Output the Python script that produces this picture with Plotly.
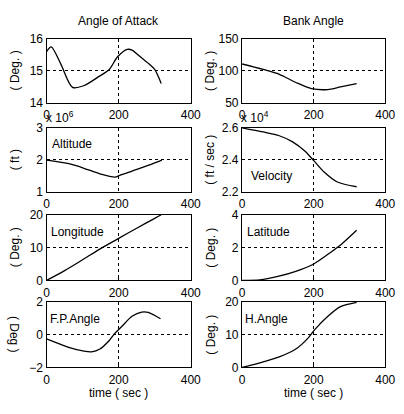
import plotly.graph_objects as go
from plotly.subplots import make_subplots

# ---- data ----
t_aoa = [0, 13, 40, 72, 103, 148, 174, 197, 224, 237, 264, 286, 300, 318]
aoa = [15.6, 15.75, 15.2, 14.48, 14.53, 14.84, 15.04, 15.44, 15.67, 15.65, 15.4, 15.2, 15.04, 14.6]

t_bank = [0, 59, 104, 149, 194, 239, 275, 320]
bank = [110.6, 102, 94.4, 82, 72, 70.5, 74.7, 80]

t_alt = [0, 59, 104, 149, 190, 203, 239, 284, 320]
alt = [1.985, 1.88, 1.73, 1.55, 1.45, 1.51, 1.65, 1.83, 1.985]  # x 10^6 ft

t_vel = [0, 59, 104, 140, 176, 201, 230, 266, 320]
vel = [2.6, 2.574, 2.55, 2.513, 2.453, 2.392, 2.321, 2.26, 2.23]  # x 10^4 ft/sec

t_lon = [0, 50, 100, 150, 200, 250, 300, 318]
lon = [0, 3.0, 6.3, 9.7, 12.8, 15.9, 18.9, 20]

t_lat = [0, 50, 100, 150, 200, 250, 280, 320]
lat = [0, 0.03, 0.24, 0.55, 1.0, 1.75, 2.25, 3.05]

t_fpa = [0, 59, 104, 125, 148, 174, 188, 210, 237, 264, 282, 316]
fpa = [-0.27, -0.76, -1.01, -1.05, -0.88, -0.36, 0.03, 0.52, 1.11, 1.37, 1.35, 0.96]

t_ha = [0, 59, 104, 149, 185, 203, 239, 275, 320]
ha = [0, 1.7, 3.2, 5.5, 9, 11.5, 15.5, 18.5, 19.8]

x_ticks = [0, 200, 400]
panels = [
    # (row, col, t, y, yrange, yticks, ytitle, label, label offsets)
    (1, 1, t_aoa, aoa, [14, 16], [14, 15, 16], "( Deg. )", None, None),
    (1, 2, t_bank, bank, [50, 150], [50, 100, 150], "( Deg. )", None, None),
    (2, 1, t_alt, alt, [1, 3], [1, 2, 3], "( ft )", "Altitude", (4, 17)),
    (2, 2, t_vel, vel, [2.2, 2.6], [2.2, 2.4, 2.6], "( ft / sec )", "Velocity", (7, 50)),
    (3, 1, t_lon, lon, [0, 20], [0, 10, 20], "( Deg. )", "Longitude", (3, 18)),
    (3, 2, t_lat, lat, [0, 4], [0, 2, 4], "( Deg. )", "Latitude", (3, 18)),
    (4, 1, t_fpa, fpa, [-2, 2], [-2, 0, 2], "( Deg )", "F.P.Angle", (1, 18)),
    (4, 2, t_ha, ha, [0, 20], [0, 10, 20], "( Deg. )", "H.Angle", (1, 18)),
]

W, H = 404, 414
xdom = {1: (45, 194), 2: (247, 395)}
ydom = {1: (33, 99), 2: (125, 191), 3: (215, 283), 4: (305, 373)}

FONT = "Liberation Sans, Arial, sans-serif"
TXT = dict(family=FONT, size=12, color="black")
fig = make_subplots(rows=4, cols=2)


def note(px, py, text, xanchor="center", angle=0):
    fig.add_annotation(x=px / W, y=1 - py / H, xref="paper", yref="paper", text=text,
                       showarrow=False, xanchor=xanchor, yanchor="middle", textangle=angle,
                       font=TXT)


for (r, c, t, y, yr, yt, ytitle, lab, off) in panels:
    fig.add_trace(go.Scatter(x=t, y=y, mode="lines",
                             line=dict(color="black", width=1.3, shape="spline", smoothing=0.8),
                             showlegend=False, hoverinfo="skip"), row=r, col=c)
    x0, x1 = xdom[c]
    y0, y1 = ydom[r]
    common = dict(showgrid=True, gridcolor="black", griddash="3px,3px", gridwidth=1,
                  showline=True, linecolor="black", linewidth=1.3, mirror=True,
                  ticks="inside", ticklen=3, tickcolor="black", zeroline=False,
                  tickfont=TXT)
    fig.update_xaxes(domain=[x0 / W, x1 / W], range=[0, 400], tickvals=x_ticks,
                     ticklabelstandoff=1, **common, row=r, col=c)
    fig.update_yaxes(domain=[1 - y1 / H, 1 - y0 / H], range=yr, tickvals=yt, **common, row=r, col=c)
    note(x0 - 33, (y0 + y1) / 2, ytitle, angle=90 if (r == 4 and c == 1) else -90)
    if lab:
        note(x0 + off[0], y0 + off[1], lab, xanchor="left")

# column titles
note((45 + 194) / 2, 15, "Angle of Attack")
note((247 + 395) / 2, 15, "Bank Angle")
# exponent labels
note(42, 114, "x 10<sup>6</sup>", xanchor="left")
note(244, 114, "x 10<sup>4</sup>", xanchor="left")
# x-axis titles
for c in (1, 2):
    x0, x1 = xdom[c]
    note((x0 + x1) / 2, 400, "time ( sec )")

fig.update_layout(width=W, height=H, margin=dict(l=0, r=0, t=0, b=0),
                  paper_bgcolor="white", plot_bgcolor="white")
fig.write_html("out.html")
